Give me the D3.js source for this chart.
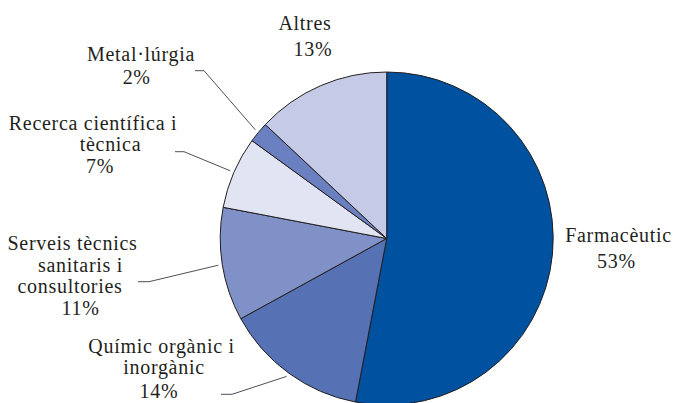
<!DOCTYPE html>
<html>
<head>
<meta charset="utf-8">
<script src="https://cdn.jsdelivr.net/npm/d3@7"></script>
<style>
  html, body { margin: 0; padding: 0; background: #fff; }
  svg { display: block; }
  text { font-family: "Liberation Serif", "Times New Roman", serif; font-size: 20px; fill: #231f20; letter-spacing: 0.7px; }
</style>
</head>
<body>
<svg id="chart" width="676" height="403"></svg>
<script>
// ---- data ----
const categories = ["Farmacèutic", "Químic orgànic i inorgànic", "Serveis tècnics sanitaris i consultories", "Recerca científica i tècnica", "Metal·lúrgia", "Altres"];
const values = [53, 14, 11, 7, 2, 13];
const labelLines = [
  ["Farmacèutic", "53%"],
  ["Químic orgànic i", "inorgànic", "14%"],
  ["Serveis tècnics", "sanitaris i", "consultories", "11%"],
  ["Recerca científica i", "tècnica", "7%"],
  ["Metal·lúrgia", "2%"],
  ["Altres", "13%"]
];
const colors = ["#0051a0", "#5672b4", "#8091c8", "#e1e5f3", "#6a80c0", "#c5cae6"];

// ---- layout (label placement) ----
const cx = 386.7, cy = 238.5, R = 166.5;
const labelLayout = [
  { lines: [[618.5, 241.7], [616.5, 268.3]], leader: null },
  { lines: [[161.5, 353.3], [164, 374], [159, 397.7]], leader: [[221, 394.3], [232, 394.3]] },
  { lines: [[72.5, 250], [80.5, 272], [70, 293], [80.5, 314.5]], leader: [[138, 281.7], [149, 281.7]] },
  { lines: [[93, 130], [110.5, 150.7], [100, 173]], leader: [[175, 151.7], [184, 151.7]] },
  { lines: [[141, 60.7], [136.7, 84]], leader: [[195, 70.7], [204, 70.7]] },
  { lines: [[305, 29.5], [313, 56]], leader: null }
];

const svg = d3.select("#chart");
const g = svg.append("g").attr("transform", `translate(${cx},${cy})`);

const pie = d3.pie().sort(null).value(d => d).startAngle(0).endAngle(2 * Math.PI);
const arcs = pie(values);
const arc = d3.arc().innerRadius(0).outerRadius(R);
const outer = d3.arc().innerRadius(R + 4).outerRadius(R + 4);

g.selectAll("path.slice")
  .data(arcs)
  .enter().append("path")
  .attr("class", "slice")
  .attr("d", arc)
  .attr("fill", (d, i) => colors[i])
  .attr("stroke", "#231f20")
  .attr("stroke-width", 1)
  .attr("stroke-linejoin", "round");

// leader lines
arcs.forEach((d, i) => {
  const L = labelLayout[i];
  if (!L.leader) return;
  const c = outer.centroid(d);
  const end = [c[0] + cx, c[1] + cy];
  const pts = [L.leader[0], L.leader[1], end];
  svg.append("path")
    .attr("d", d3.line()(pts))
    .attr("fill", "none")
    .attr("stroke", "#3a3a48")
    .attr("stroke-width", 0.9);
});

// labels
labelLines.forEach((lines, i) => {
  lines.forEach((t, j) => {
    const p = labelLayout[i].lines[j];
    svg.append("text")
      .attr("x", p[0])
      .attr("y", p[1])
      .attr("text-anchor", "middle")
      .text(t);
  });
});
</script>
</body>
</html>
